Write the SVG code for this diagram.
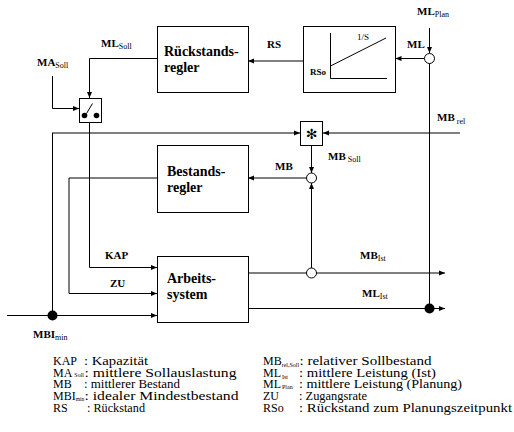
<svg xmlns="http://www.w3.org/2000/svg" width="514" height="432" viewBox="0 0 514 432">
<defs>
<marker id="ah" viewBox="0 0 6 6" refX="6" refY="3" markerWidth="6" markerHeight="6" markerUnits="userSpaceOnUse" orient="auto">
<path d="M0,0.5 L6,3 L0,5.5 z" fill="#000"/>
</marker>
<style>
.box{fill:#fff;stroke:#000;stroke-width:1}
.ln{fill:none;stroke:#000;stroke-width:1}
.gl{fill:none;stroke:#000;stroke-width:1}
.arr{marker-end:url(#ah)}
.bt{font-family:"Liberation Serif","Times New Roman",serif;font-weight:bold;font-size:14px;fill:#000}
.lb{font-family:"Liberation Serif","Times New Roman",serif;font-weight:bold;font-size:11px;fill:#000}
.sb{font-family:"Liberation Serif","Times New Roman",serif;font-weight:normal;font-size:8px;fill:#000}
.lg{font-family:"Liberation Serif","Times New Roman",serif;font-size:12px;fill:#000}
.ls{font-family:"Liberation Serif","Times New Roman",serif;font-size:6px;fill:#000}
.sm{font-family:"Liberation Serif","Times New Roman",serif;font-size:9px;fill:#000}
</style>
</defs>

<g id="connectors">
<path class="ln arr" d="M429.5,28 L429.5,53"/>
<path class="ln arr" d="M424,58.5 L395.5,58.5"/>
<path class="ln arr" d="M303,61 L248,61"/>
<path class="ln arr" d="M157,58.5 L89.5,58.5 L89.5,98"/>
<path class="ln arr" d="M52.5,76 L52.5,108.5 L79,108.5"/>
<path class="ln arr" d="M89.5,123 L89.5,267.5 L157,267.5"/>
<path class="gl arr" d="M52,133 L300,133"/>
<path class="gl arr" d="M460,133 L323,133"/>
<path class="ln" d="M52.5,133 L52.5,315"/>
<path class="ln arr" d="M7,315.5 L157,315.5"/>
<path class="ln arr" d="M311.5,146 L311.5,173"/>
<path class="gl arr" d="M306,178 L248,178"/>
<path class="gl arr" d="M157,178 L69,178 L69,293.5 L157,293.5"/>
<path class="gl arr" d="M248,273 L445,273"/>
<path class="ln arr" d="M311.5,268 L311.5,183"/>
<path class="ln arr" d="M248,308.5 L445,308.5"/>
<path class="ln" d="M429.5,63 L429.5,308"/>
<circle cx="52.5" cy="315.5" r="5" fill="#000"/>
<circle cx="429.5" cy="308.5" r="5" fill="#000"/>
</g>

<g id="circle-ml"><circle cx="429.5" cy="58.5" r="5" class="box"/></g>
<g id="circle-mbsoll"><circle cx="311.5" cy="178" r="5" class="box"/></g>
<g id="circle-mbist"><circle cx="311.5" cy="273" r="5" class="box"/></g>

<g id="rueckstandsregler">
<rect x="157.5" y="26.5" width="91" height="66" class="box"/>
<text class="bt" x="164" y="56">Rückstands-</text>
<text class="bt" x="164" y="72">regler</text>
</g>

<g id="integrator">
<rect x="303.5" y="26.5" width="92" height="66" class="box"/>
<path class="ln" d="M330.5,33 L330.5,78.5 L387,78.5"/>
<path class="ln" d="M330.5,66 L386,38"/>
<text class="sm" x="357" y="40">1/S</text>
<text class="sm" x="310" y="75" font-weight="bold">RSo</text>
</g>

<g id="schalter">
<rect x="79.5" y="98.5" width="22" height="24" class="box"/>
<circle cx="84.5" cy="115.5" r="2.8" fill="#000"/>
<circle cx="96.5" cy="115.5" r="2.8" fill="#000"/>
<path class="ln" d="M86.5,113.5 L92.5,103.5" stroke-width="1.3"/>
</g>

<g id="multiplikator">
<rect x="300.5" y="121.5" width="22" height="24" class="box"/>
<text x="311.5" y="138.5" text-anchor="middle" font-family="DejaVu Sans, sans-serif" font-size="14" font-weight="bold">✻</text>
</g>

<g id="bestandsregler">
<rect x="157.5" y="145.5" width="91" height="67" class="box"/>
<text class="bt" x="167" y="176">Bestands-</text>
<text class="bt" x="167" y="192">regler</text>
</g>

<g id="arbeitssystem">
<rect x="157.5" y="256.5" width="91" height="66" class="box"/>
<text class="bt" x="167" y="283">Arbeits-</text>
<text class="bt" x="167" y="299">system</text>
</g>

<g id="labels">
<text class="lb" x="101" y="47">ML<tspan class="sb" dy="2">Soll</tspan></text>
<text class="lb" x="37" y="66">MA<tspan class="sb" dy="2">Soll</tspan></text>
<text class="lb" x="267" y="48">RS</text>
<text class="lb" x="407" y="48">ML</text>
<text class="lb" x="417" y="15">ML<tspan class="sb" dy="2">Plan</tspan></text>
<text class="lb" x="437" y="121">MB<tspan class="sb" dx="2" dy="3">rel</tspan></text>
<text class="lb" x="328" y="160">MB<tspan class="sb" dx="2" dy="2">Soll</tspan></text>
<text class="lb" x="275" y="170">MB</text>
<text class="lb" x="105" y="259">KAP</text>
<text class="lb" x="110" y="287">ZU</text>
<text class="lb" x="360" y="259">MB<tspan class="sb" dy="2">Ist</tspan></text>
<text class="lb" x="362" y="297">ML<tspan class="sb" dy="2">Ist</tspan></text>
<text class="lb" x="33" y="338">MBI<tspan class="sb" dy="2">min</tspan></text>
</g>

<g id="legend">
<text class="lg" x="53" y="365">KAP</text>
<text class="lg" x="84" y="365" textLength="64" lengthAdjust="spacingAndGlyphs">: Kapazität</text>
<text class="lg" x="53" y="377">MA<tspan class="ls" dx="2">Soll</tspan></text>
<text class="lg" x="84.5" y="377" textLength="152" lengthAdjust="spacingAndGlyphs">: mittlere Sollauslastung</text>
<text class="lg" x="53" y="388">MB</text>
<text class="lg" x="84" y="388" textLength="96" lengthAdjust="spacingAndGlyphs">: mittlerer Bestand</text>
<text class="lg" x="53" y="400">MBI<tspan class="ls" dy="1" style="font-size:5.5px">min</tspan></text>
<text class="lg" x="84.5" y="400" textLength="154" lengthAdjust="spacingAndGlyphs">: idealer Mindestbestand</text>
<text class="lg" x="53" y="412">RS</text>
<text class="lg" x="87" y="412" textLength="58" lengthAdjust="spacingAndGlyphs">: Rückstand</text>

<text class="lg" x="263" y="365">MB<tspan class="ls" dy="2">rel,Soll</tspan></text>
<text class="lg" x="299.5" y="365" textLength="132" lengthAdjust="spacingAndGlyphs">: relativer Sollbestand</text>
<text class="lg" x="263" y="377">ML<tspan class="ls" dx="1" dy="2">Ist</tspan></text>
<text class="lg" x="299" y="377" textLength="137" lengthAdjust="spacingAndGlyphs">: mittlere Leistung (Ist)</text>
<text class="lg" x="263" y="388">ML<tspan class="ls" dx="1" dy="1">Plan</tspan></text>
<text class="lg" x="299" y="388" textLength="163" lengthAdjust="spacingAndGlyphs">: mittlere Leistung (Planung)</text>
<text class="lg" x="263" y="400">ZU</text>
<text class="lg" x="299" y="400" textLength="68" lengthAdjust="spacingAndGlyphs">: Zugangsrate</text>
<text class="lg" x="263" y="412">RSo</text>
<text class="lg" x="299" y="412" textLength="213" lengthAdjust="spacingAndGlyphs">: Rückstand zum Planungszeitpunkt</text>
</g>
</svg>
